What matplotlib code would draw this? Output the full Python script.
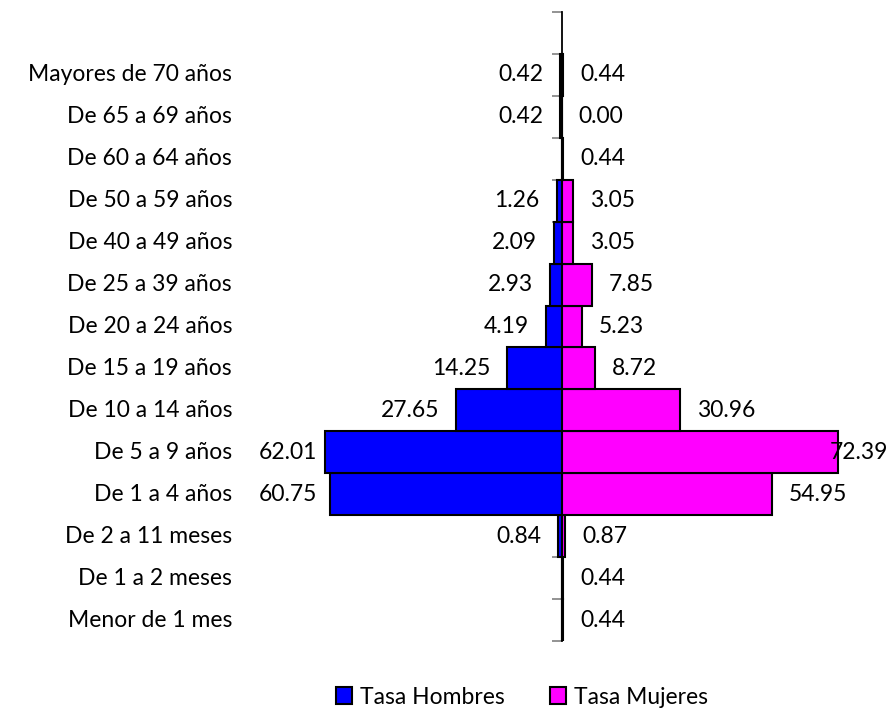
import matplotlib
matplotlib.use("Agg")
import matplotlib.pyplot as plt
import matplotlib.transforms as mtransforms
from matplotlib.patches import Patch
import numpy as np

plt.rcParams['font.family'] = ['Lato', 'DejaVu Sans']

# Data (bottom to top)
categorias = ["Menor de 1 mes", "De 1 a 2 meses", "De 2 a 11 meses", "De 1 a 4 años",
              "De 5 a 9 años", "De 10 a 14 años", "De 15 a 19 años", "De 20 a 24 años",
              "De 25 a 39 años", "De 40 a 49 años", "De 50 a 59 años", "De 60 a 64 años",
              "De 65 a 69 años", "Mayores de 70 años"]
tasa_hombres = [None, None, 0.84, 60.75, 62.01, 27.65, 14.25, 4.19, 2.93, 2.09, 1.26, None, 0.42, 0.42]
tasa_mujeres = [0.44, 0.44, 0.87, 54.95, 72.39, 30.96, 8.72, 5.23, 7.85, 3.05, 3.05, 0.44, 0.00, 0.44]

AZUL = "#0000FF"
MAGENTA = "#FF00FF"
FS = 16.5

fig = plt.figure(figsize=(8.89, 7.14), dpi=100)
ax = fig.add_axes([256 / 889, 73 / 714, 622.7 / 889, 629 / 714])

y = np.arange(len(categorias))
h = np.array([v if v is not None else 0 for v in tasa_hombres])
m = np.array(tasa_mujeres)

ax.barh(y, -h, height=1.0, color=AZUL, edgecolor="black", linewidth=1.5, zorder=2)
ax.barh(y, m, height=1.0, color=MAGENTA, edgecolor="black", linewidth=1.5, zorder=2)

ax.set_xlim(-80, 83)
ax.set_ylim(-0.5, len(categorias) + 0.5)

# value labels (kept inside the plot area like Excel does)
gap = 4.45
for yi, v in zip(y, tasa_hombres):
    if v is None:
        continue
    xr = max(-(v + gap), -63.9)
    ax.text(xr, yi, f"{v:.2f}", ha="right", va="center", fontsize=FS, zorder=3)
for yi, v in zip(y, tasa_mujeres):
    xl = min(v + gap, 70.1)
    ax.text(xl, yi, f"{v:.2f}", ha="left", va="center", fontsize=FS, zorder=3)

# category labels at the left
trans = mtransforms.blended_transform_factory(ax.transAxes, ax.transData)
for yi, c in zip(y, categorias):
    ax.text(-0.0385, yi, c, transform=trans, ha="right", va="center", fontsize=FS)

# axis line at zero with ticks at category boundaries
for s in ["top", "right", "bottom"]:
    ax.spines[s].set_visible(False)
ax.spines["left"].set_position(("data", 0))
ax.spines["left"].set_linewidth(1.3)
ax.spines["left"].set_zorder(4)
ax.set_xticks([])
ax.set_yticks(np.arange(-0.5, len(categorias) + 1, 1.0))
ax.set_yticklabels([])
ax.tick_params(axis="y", direction="out", length=7, width=1.2, color="#808080")

handles = [Patch(facecolor=AZUL, edgecolor="black", linewidth=1.5, label="Tasa Hombres"),
           Patch(facecolor=MAGENTA, edgecolor="black", linewidth=1.5, label="Tasa Mujeres")]
fig.legend(handles=handles, loc="center", bbox_to_anchor=(522 / 889, 1 - 697 / 714),
           ncol=2, frameon=False, fontsize=FS, handlelength=0.7, handleheight=0.7,
           handletextpad=0.35, columnspacing=2.0)

fig.savefig("out.png", dpi=100)
